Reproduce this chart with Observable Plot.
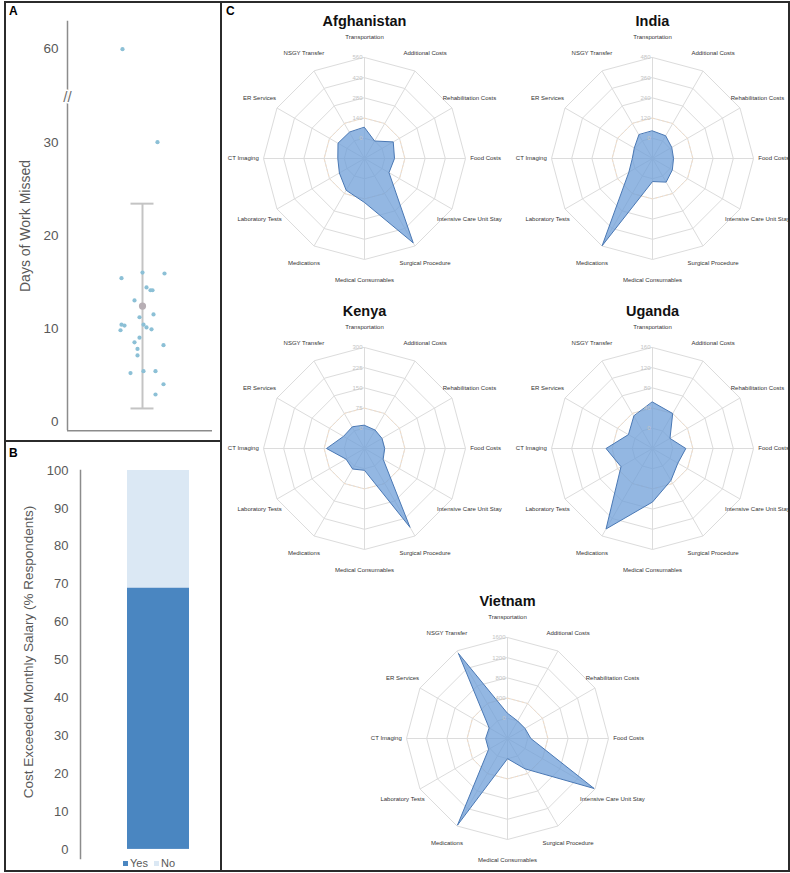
<!DOCTYPE html>
<html><head><meta charset="utf-8">
<script src="https://cdn.jsdelivr.net/npm/d3@7"></script>
<script src="https://cdn.jsdelivr.net/npm/@observablehq/plot@0.6"></script>
<style>
body{margin:0;background:#fff;font-family:"Liberation Sans",Arial,sans-serif;}
#fig{position:relative;width:790px;height:873px;overflow:hidden;background:#fff;}
.abs{position:absolute;}
.line{position:absolute;background:#2b2b2b;}
.plab{position:absolute;font-weight:bold;font-size:12px;color:#000;}
.ylab{position:absolute;white-space:nowrap;color:#595959;transform:translate(-50%,-50%) rotate(-90deg);}
.leg{position:absolute;font-size:11px;color:#595959;white-space:nowrap;}
.sw{display:inline-block;width:5px;height:5px;margin-right:2px;vertical-align:1px;}
</style></head><body><div id="fig"></div>
<script>
// ---------- Panel A: days of work missed ----------
const daysJitter = [-20, 15, -21, 0, 22, 4, 8, 10, -8, 11, -3, -21, -18, 1, 4, 9, -22, -3, -8, 21, -5, -5, -12, 1, 13, 21, 13];
const daysMissed = [60, 30, 15.4, 16.0, 15.9, 14.4, 14.1, 14.1, 13.0, 11.5, 11.2, 10.4, 10.3, 10.4, 10.1, 9.9, 9.8, 9.0, 8.5, 8.2, 7.8, 7.1, 5.2, 5.4, 5.4, 4.0, 2.9];
const daysMean = 12.4;
const daysSD = 11.0;
const daysTicks = [0, 10, 20, 30, 60];

// ---------- Panel B: cost exceeded monthly salary ----------
const exceededLabels = ["Yes", "No"];
const exceededPct = [69, 31];
const pctTicks = [0, 10, 20, 30, 40, 50, 60, 70, 80, 90, 100];

// ---------- Panel C: radar charts ----------
const categories = ["Transportation", "Additional Costs", "Rehabilitation Costs", "Food Costs",
  "Intensive Care Unit Stay", "Surgical Procedure", "Medical Consumables", "Medications",
  "Laboratory Tests", "CT Imaging", "ER Services", "NSGY Transfer"];
const countries = ["Afghanistan", "India", "Kenya", "Uganda", "Vietnam"];
const afghanistan = [75, 0, 90, 68, 56, 535, 165, 114, 61, 45, 72, 70];
const india = [44, 36, 12, 5, 16, 42, 17, 478, 42, 0, 5, 42];
const kenya = [11, 4, 0, 0, 5, 263, 6, 13, 4, 66, 15, 17];
const uganda = [52, 40, 0, 26, 18, 33, 66, 144, 32, 52, 15, 34];
const vietnam = [100, 0, 0, 62, 1580, 294, 0, 1580, 33, 33, 20, 1536];
const axisSteps = [140, 120, 75, 40, 400];

const FONT = "'Liberation Sans', Arial, sans-serif";
const fig = document.getElementById("fig");
function place(node, left, top) {
  node.style.position = "absolute"; node.style.left = left + "px"; node.style.top = top + "px";
  fig.appendChild(node);
}
function div(cls, html, css) {
  const d = document.createElement("div"); d.className = cls; d.innerHTML = html;
  Object.assign(d.style, css); fig.appendChild(d); return d;
}

// ----- Panel A -----
const breakAt = 35;
const yPos = v => v > breakAt ? v - 20 : v;
const rowsA = daysMissed.map((v, i) => ({days: v, jitter: daysJitter[i]}));
const plotA = Plot.plot({
  width: 216, height: 439,
  marginLeft: 62, marginRight: 9, marginTop: 18.7, marginBottom: 10.7,
  style: {fontFamily: FONT, fontSize: "13.5px", color: "#595959", background: "transparent", overflow: "visible"},
  x: {domain: [-75, 70], axis: null},
  y: {domain: [-1, 43], axis: null},
  marks: [
    Plot.ruleX([-75], {y1: -1, y2: 43, stroke: "#8c8c8c", strokeWidth: 1.5}),
    Plot.ruleY([-1], {x1: -75, x2: 70, stroke: "#8c8c8c", strokeWidth: 1.5}),
    Plot.axisY({ticks: daysTicks.map(yPos), tickFormat: (d, i) => daysTicks[i], tickSize: 0, tickPadding: 9, fontSize: 13.5, fill: "#595959", label: null}),
    Plot.text(["//"], {x: -75, y: 34.8, text: d => d, fontSize: 15, fill: "#6f6f6f", stroke: "white", strokeWidth: 3, paintOrder: "stroke"}),
    Plot.ruleX([0], {y1: daysMean - daysSD, y2: daysMean + daysSD, stroke: "#c4c4c4", strokeWidth: 2}),
    Plot.ruleY([daysMean - daysSD, daysMean + daysSD], {x1: -11.5, x2: 11.5, stroke: "#c4c4c4", strokeWidth: 2}),
    Plot.dot(rowsA, {x: "jitter", y: d => yPos(d.days), r: 2.1, fill: "#8cc0d6", stroke: "none"}),
    Plot.dot([daysMean], {x: 0, y: d => d, r: 3.6, fill: "#b7aeb4", stroke: "none"})
  ]
});
place(plotA, 5, 2);
div("ylab", "Days of Work Missed", {left: "25px", top: "226px", fontSize: "14px"});

// ----- Panel B -----
const rowsB = exceededLabels.map((a, i) => ({group: "All", answer: a, pct: exceededPct[i]}));
const plotB = Plot.plot({
  width: 216, height: 430,
  marginLeft: 75, marginRight: 5, marginTop: 29, marginBottom: 13,
  style: {fontFamily: FONT, fontSize: "13px", color: "#595959", background: "transparent", overflow: "visible"},
  x: {domain: ["All"], range: [122, 184], padding: 0, axis: null},
  y: {domain: [-2.4, 100], axis: null},
  color: {domain: exceededLabels, range: ["#4a86c1", "#dbe8f4"]},
  marks: [
    Plot.barY(rowsB, {x: "group", y: "pct", fill: "answer"}),
    Plot.frame({anchor: "left", stroke: "#8c8c8c", strokeWidth: 1.5}),
    Plot.axisY({ticks: pctTicks, tickSize: 0, tickPadding: 12, fontSize: 13, fill: "#595959", label: null})
  ]
});
place(plotB, 5, 441);
div("ylab", "Cost Exceeded Monthly Salary (% Respondents)", {left: "28px", top: "652px", fontSize: "13.5px"});
div("leg", `<span class="sw" style="background:#4a86c1"></span>Yes&nbsp;&nbsp;<span class="sw" style="background:#dbe8f4"></span>No`, {left: "123px", top: "857px"});

// ----- Panel C -----
function radar(name, values, step) {
  const n = categories.length;
  const ang = i => i * 2 * Math.PI / n;
  const frac = v => (v + step) / (5 * step);
  const px = (i, f) => f * Math.sin(ang(i));
  const py = (i, f) => f * Math.cos(ang(i));
  const levels = [0, 1, 2, 3, 4].map(k => k * step);
  const ringRows = levels.flatMap(l => categories.map((c, i) => ({level: l, i, f: frac(l)})));
  const refRows = categories.map((c, i) => ({i, f: frac(step)}));
  const rows = values.map((v, i) => ({cat: categories[i], i, f: frac(v)}));
  return Plot.plot({
    width: 276, height: 282, margin: 0,
    style: {fontFamily: FONT, background: "transparent", overflow: "visible"},
    x: {domain: [-1, 1], range: [37, 239], axis: null},
    y: {domain: [-1, 1], range: [251, 49], axis: null},
    marks: [
      Plot.line(ringRows, {x: d => px(d.i, d.f), y: d => py(d.i, d.f), z: "level", curve: "linear-closed", stroke: "#dcdcdc", strokeWidth: 1}),
      Plot.link(categories, {x1: 0, y1: 0, x2: (d, i) => px(i, 1), y2: (d, i) => py(i, 1), stroke: "#dcdcdc", strokeWidth: 1}),
      Plot.line(refRows, {x: d => px(d.i, d.f), y: d => py(d.i, d.f), curve: "linear-closed", stroke: "#f8dcc0", strokeWidth: 0.8, strokeDasharray: "2,3"}),
      Plot.line(rows, {x: d => px(d.i, d.f), y: d => py(d.i, d.f), curve: "linear-closed", fill: "#6f9fd8", fillOpacity: 0.75, stroke: "#4a78b4", strokeWidth: 1}),
      Plot.text(levels, {x: 0, y: d => frac(d), text: d => String(d), textAnchor: "end", dx: -2, fontSize: 6, fill: "#c4c4c4"}),
      Plot.text(categories, {x: (d, i) => px(i, 1.2), y: (d, i) => py(i, 1.2), text: d => d, fontSize: 6, fill: "#333"}),
      Plot.text([name], {x: 0, y: 1.307, text: d => d, fontSize: 14.5, fontWeight: "bold", lineAnchor: "bottom", fill: "#111"})
    ]
  });
}
const series = [afghanistan, india, kenya, uganda, vietnam];
const slots = [[226, 8], [514, 8], [226, 298], [514, 298], [369, 588]];
countries.forEach((c, k) => place(radar(c, series[k], axisSteps[k]), slots[k][0], slots[k][1]));

// ----- frame and panel letters -----
div("line", "", {left: "4px", top: "1px", width: "786px", height: "1.6px"});
div("line", "", {left: "4px", top: "870px", width: "786px", height: "1.6px"});
div("line", "", {left: "4px", top: "1px", width: "1.6px", height: "871px"});
div("line", "", {left: "788px", top: "1px", width: "1.6px", height: "871px"});
div("line", "", {left: "220px", top: "1px", width: "1.8px", height: "871px"});
div("line", "", {left: "4px", top: "440px", width: "217px", height: "2px"});
div("plab", "A", {left: "9px", top: "4px"});
div("plab", "B", {left: "9px", top: "446px"});
div("plab", "C", {left: "226px", top: "4px"});
</script></body></html>
